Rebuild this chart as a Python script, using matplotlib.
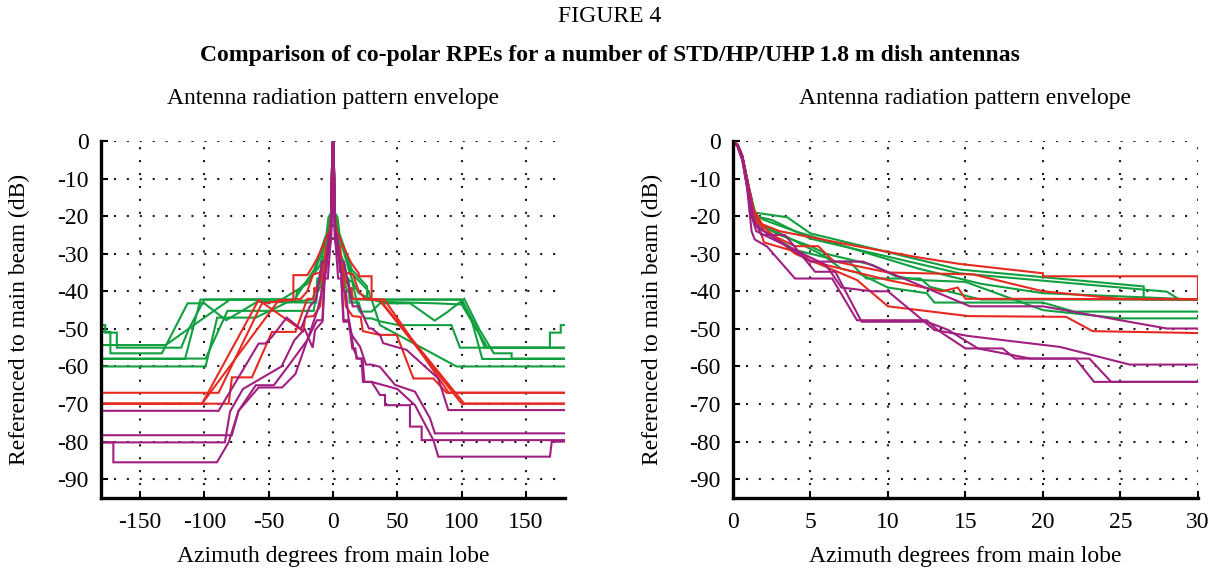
import matplotlib
matplotlib.use("Agg")
import matplotlib.pyplot as plt

plt.rcParams['font.family'] = ['Liberation Serif', 'DejaVu Serif']
plt.rcParams['axes.unicode_minus'] = False

# ---------------- data (azimuth in degrees, level in dB) ----------------
# Green antennas
g1_az = [-180, -177, -177, -168, -168, -118, -112, -100, -30, -14.6, -5, -3.5, -1.3, -0.9, -0.6, -0.3, 0,
         0.3, 0.6, 0.9, 1.3, 3.5, 5, 14.6, 26.5, 26.5, 100, 112, 118, 168.6, 168.6, 177, 177, 180]
g1_db = [-49, -49, -51, -51, -55, -55, -50, -42.2, -42.2, -34.2, -24.6, -20.3, -19, -10, -4, -1, 0,
         -1, -4, -10, -19, -20.3, -24.6, -34.2, -38.7, -42.2, -42.2, -50, -55, -55, -51, -51, -49, -49]

g2_az = [-180, -115, -103, -28.8, -28, -14.6, -5, -2.5, -1.4, -0.9, -0.6, -0.3, 0,
         0.3, 0.6, 0.9, 1.4, 2.5, 5, 14.6, 28, 28.8, 100, 108, 116, 180]
g2_db = [-58, -58, -42.2, -42.2, -40.1, -35.2, -26, -21, -20, -10.5, -4.5, -1.2, 0,
         -1.2, -4.5, -10.5, -20, -21, -26, -35.2, -40.1, -42.2, -42.2, -48, -58, -58]

g3_az = [-180, -99, -90, -60, -36, -16, -12.7, -12.1, -8.6, -7.5, -6.6, -3, -1.5, -0.9, -0.6, -0.3, 0,
         0.3, 0.6, 0.9, 1.5, 3, 6.6, 7.5, 8.6, 12.1, 12.7, 16, 30, 36.5, 96, 180]
g3_db = [-60, -60, -47, -47, -43, -42.2, -38.8, -36.6, -36.6, -32.1, -32.1, -24.5, -22, -10, -4, -1, 0,
         -1, -4, -10, -22, -24.5, -32.1, -32.1, -36.6, -36.6, -38.8, -42.2, -42.2, -49, -60, -60]

g4_az = [-180, -176, -173, -173, -142, -133, -113, -100, -83, -59, -20, -13, -12.5, -10, -8, -7, -6, -4, -1.6, -0.9, -0.6, -0.3, 0,
         0.3, 0.6, 0.9, 1.6, 4, 6, 7, 8, 10, 12.5, 13, 20, 22, 30, 36.5, 60, 79, 89, 102, 114, 125, 138.8, 138.8, 180]
g4_db = [-50.8, -50.8, -50.8, -56.5, -56.5, -56.5, -43.2, -43.2, -47.7, -42.8, -43, -43, -40.5, -39, -35, -34, -31, -29, -23, -10, -4, -1, 0,
         -1, -4, -10, -23, -29, -31, -34, -35, -39, -40.5, -43, -43, -45.4, -45.4, -43.2, -43.2, -47.8, -45.5, -42, -50.3, -56.5, -56.5, -57.9, -57.9]

g5_az = [-180, -99, -82, -42, -15, -10.5, -9, -6, -5, -3, -1.6, -0.9, -0.6, -0.3, 0,
         0.3, 0.6, 0.9, 1.6, 3, 5, 6, 9, 10.5, 12, 15, 20, 25, 30, 36.5, 51, 92, 98.7, 165, 175, 180]
g5_db = [-57.9, -57.9, -45.2, -45.2, -45.2, -36, -33, -30, -28, -25, -22, -10, -4, -1, 0,
         -1, -4, -10, -22, -25, -28, -30, -33, -36, -37, -37.5, -45, -47.2, -47.2, -48, -49, -49, -55, -55, -55, -55]

g6_az = [-180, -130, -100, -80, -40, -20, -10, -4, -2, -1.4, -0.9, -0.6, -0.3, 0,
         0.3, 0.6, 0.9, 1.4, 2, 4, 8, 12, 16, 20, 30, 36.5, 80, 100, 120, 180]
g6_db = [-54.3, -54.3, -47, -42.2, -42.2, -38, -33, -24, -21, -19.5, -10, -4, -1, 0,
         -1, -4, -10, -19.5, -21, -24, -29, -34, -38, -40.5, -42.2, -42.8, -43.2, -43.5, -55, -55]

# Red antennas
r1_az = [-180, -101.8, -42, -30.8, -30.8, -20, -14.6, -12, -8, -3, -1.8, -1.3, -0.9, -0.6, -0.3, 0,
         0.3, 0.6, 0.9, 1.3, 1.8, 3, 8, 12, 14.6, 20, 20, 30, 30, 36, 100, 180]
r1_db = [-69.9, -69.9, -42.3, -42.3, -35.7, -35.7, -32.7, -31, -28, -24, -22, -18, -10, -4, -1, 0,
         -1, -4, -10, -18, -22, -24, -28, -31, -32.7, -35.2, -36, -36, -42.2, -42.3, -69.9, -69.9]

r2_az = [-180, -88.9, -55.2, -25, -20, -15.5, -10, -6.5, -5.5, -4, -2, -1.3, -0.9, -0.6, -0.3, 0,
         0.3, 0.6, 0.9, 1.3, 2, 4, 5.5, 6.5, 10, 15.5, 20, 25, 40, 90, 180]
r2_db = [-67, -67, -43.2, -42, -40, -35.5, -35, -32, -28, -28, -24, -18, -10, -4, -1, 0,
         -1, -4, -10, -18, -24, -28, -28, -32, -35, -35.5, -40, -42, -42.2, -67, -67]

r3_az = [-180, -81.1, -78.5, -63, -47.4, -29.2, -20, -15, -14.5, -13.5, -10, -5, -4.5, -2, -1.3, -0.9, -0.6, -0.3, 0,
         0.3, 0.6, 0.9, 1.3, 2, 4.5, 5, 10, 13.5, 14.5, 15, 20, 36.5, 102, 180]
r3_db = [-69.9, -69.9, -62.9, -62.9, -50.8, -50.8, -42, -42, -39, -40, -37, -32, -30, -27, -18, -10, -4, -1, 0,
         -1, -4, -10, -18, -27, -30, -32, -37, -40, -39, -42, -42, -42.3, -69.9, -69.9]

r4_az = [-180, -101.8, -57.8, -23.2, -21.5, -15.2, -12, -10, -8, -4, -2, -1.3, -0.9, -0.6, -0.3, 0,
         0.3, 0.6, 0.9, 1.3, 2, 4, 8, 10, 12, 15.2, 21.5, 23.2, 36.5, 49.5, 62.5, 78, 88.3, 180]
r4_db = [-69.9, -69.9, -42.3, -50.6, -46.8, -46.6, -45, -44, -37, -30, -23, -18, -10, -4, -1, 0,
         -1, -4, -10, -18, -23, -30, -37, -44, -45, -46.6, -46.8, -50.6, -51.6, -51.6, -63.2, -63.2, -67, -67]

# Purple antennas
p1_az = [-180, -88.9, -57.8, -52.6, -47.4, -36, -25, -18, -13, -8.4, -5, -2, -1.4, -0.9, -0.6, -0.3, 0,
         0.3, 0.6, 0.9, 1.4, 2, 5, 8.4, 15.3, 20, 25, 28, 30, 36.5, 39, 57.2, 81.8, 89.6, 180]
p1_db = [-71.8, -71.8, -53.9, -53.9, -52.1, -47, -50, -44, -42, -32.1, -32.1, -24, -22, -10, -4, -1, 0,
         -1, -4, -10, -22, -24, -32.1, -32.1, -44, -44, -47.7, -49.9, -49.9, -51.6, -53.8, -55.6, -63.2, -71.6, -71.6]

p2_az = [-180, -78.6, -73.4, -57.8, -39.6, -29.2, -20, -12, -6, -3, -1.5, -1.2, -0.9, -0.6, -0.3, 0,
         0.3, 0.6, 0.9, 1.2, 1.5, 3, 6, 7, 9, 10, 13, 15.2, 21.1, 25.6, 30, 36.5, 48.2, 63.7, 75.4, 79.2, 180]
p2_db = [-78.3, -78.3, -71.8, -65.6, -65.6, -62, -53, -45, -36, -27, -24, -20, -12, -5, -1.5, 0,
         -1.5, -5, -12, -20, -24, -27, -33, -39, -40, -40, -50.3, -51.9, -54.8, -59.5, -59.5, -60.1, -64.9, -66.7, -73.8, -77.8, -77.8]

p3_az = [-180, -170.7, -170.7, -90.2, -81.1, -73.4, -60, -46, -35, -20, -12.5, -8, -6.4, -4, -2.2, -1.4, -1.2, -0.9, -0.6, -0.3, 0,
         0.3, 0.6, 0.9, 1.2, 1.4, 2.2, 4, 6.4, 8, 12.5, 13.2, 15, 17.4, 18.2, 22.1, 23.3, 30, 36.5, 40.4, 40.4, 59.8, 59.8, 68.9, 68.9, 180]
p3_db = [-80.2, -80.2, -85.5, -85.5, -80.2, -71.8, -65, -65, -60, -53, -47.7, -47.7, -36.6, -36.6, -28.1, -26.2, -24, -12, -5, -1.5, 0,
         -1.5, -5, -12, -24, -26.2, -28.1, -36.6, -36.6, -47.7, -47.7, -50.3, -55.2, -55.2, -57.9, -57.9, -64.1, -64.1, -67.6, -67.6, -70.3, -70.3, -76, -76, -79.6, -79.6]

p4_az = [-180, -84, -80, -70, -55, -40, -30, -22, -15.8, -13.9, -8.3, -6.6, -5.3, -3.35, -1.85, -1.2, -0.9, -0.6, -0.3, 0,
         0.3, 0.6, 0.9, 1.2, 1.85, 3.35, 5.3, 6.6, 8.3, 12.5, 13.9, 15.8, 19.2, 23, 24.4, 30, 50, 63.7, 78, 81.8, 168.6, 170, 180]
p4_db = [-80.2, -80.2, -72, -66, -63, -60, -53, -50, -55, -50.3, -48.1, -34.8, -34.8, -25, -25, -20, -12, -5, -1.5, 0,
         -1.5, -5, -12, -20, -25, -25, -34.8, -34.8, -48.1, -48.1, -50.3, -55.2, -57.9, -57.9, -64.1, -64.1, -66, -70.3, -79.6, -84, -84, -80, -80]

green_series = [(g1_az, g1_db), (g2_az, g2_db), (g3_az, g3_db), (g4_az, g4_db), (g5_az, g5_db), (g6_az, g6_db)]
red_series = [(r1_az, r1_db), (r2_az, r2_db), (r3_az, r3_db), (r4_az, r4_db)]
purple_series = [(p1_az, p1_db), (p2_az, p2_db), (p3_az, p3_db), (p4_az, p4_db)]

GREEN = '#10a040'
RED = '#e62a22'
PURPLE = '#a01f80'

yticks = [0, -10, -20, -30, -40, -50, -60, -70, -80, -90]
xticks_left = [-150, -100, -50, 0, 50, 100, 150]
xticks_right = [0, 5, 10, 15, 20, 25, 30]

# ---------------- figure ----------------
fig = plt.figure(figsize=(12.2, 5.74), dpi=100)
axL = fig.add_axes([0.0831, 0.1324, 0.3797, 0.6220])
axR = fig.add_axes([0.6008, 0.1324, 0.3811, 0.6220])

fs = 17
for ax, xlim, xt in [(axL, (-180, 180), xticks_left), (axR, (0, 30), xticks_right)]:
    for series, col in [(green_series, GREEN), (red_series, RED), (purple_series, PURPLE)]:
        for az, db in series:
            ax.plot(az, db, color=col, lw=1.5, solid_joinstyle='miter')
    ax.set_xlim(*xlim)
    ax.set_ylim(-95, 0)
    ax.set_xticks(xt)
    ax.set_yticks(yticks)
    ax.grid(True, color='#1a1a1a', linestyle=(0, (1, 5.2)), linewidth=1.5)
    ax.set_axisbelow(True)
    for s in ['top', 'right']:
        ax.spines[s].set_visible(False)
    for s in ['left', 'bottom']:
        ax.spines[s].set_linewidth(2.4)
    ax.tick_params(direction='in', length=5, width=1.5, labelsize=fs)
    ax.tick_params(axis='x', pad=10)
    ax.tick_params(axis='y', pad=9)
    ax.set_ylabel('Referenced to main beam (dB)', fontsize=fs)
    ax.set_xlabel('Azimuth degrees from main lobe', fontsize=fs)
    ax.xaxis.set_label_coords(0.5, -0.165)
    ax.xaxis.label.set_va('center')
    ax.yaxis.label.set_va('center')
    ax.text(0.5, 1.12, 'Antenna radiation pattern envelope', transform=ax.transAxes,
            ha='center', va='center', fontsize=fs)

axL.yaxis.set_label_coords(-0.176, 0.5)
axR.yaxis.set_label_coords(-0.174, 0.5)

fig.text(0.5, 0.9704, 'FIGURE 4', ha='center', va='center', fontsize=fs)
fig.text(0.5, 0.904, 'Comparison of co-polar RPEs for a number of STD/HP/UHP 1.8 m dish antennas',
         ha='center', va='center', fontsize=fs, fontweight='bold')

fig.savefig('out.png', dpi=100)
